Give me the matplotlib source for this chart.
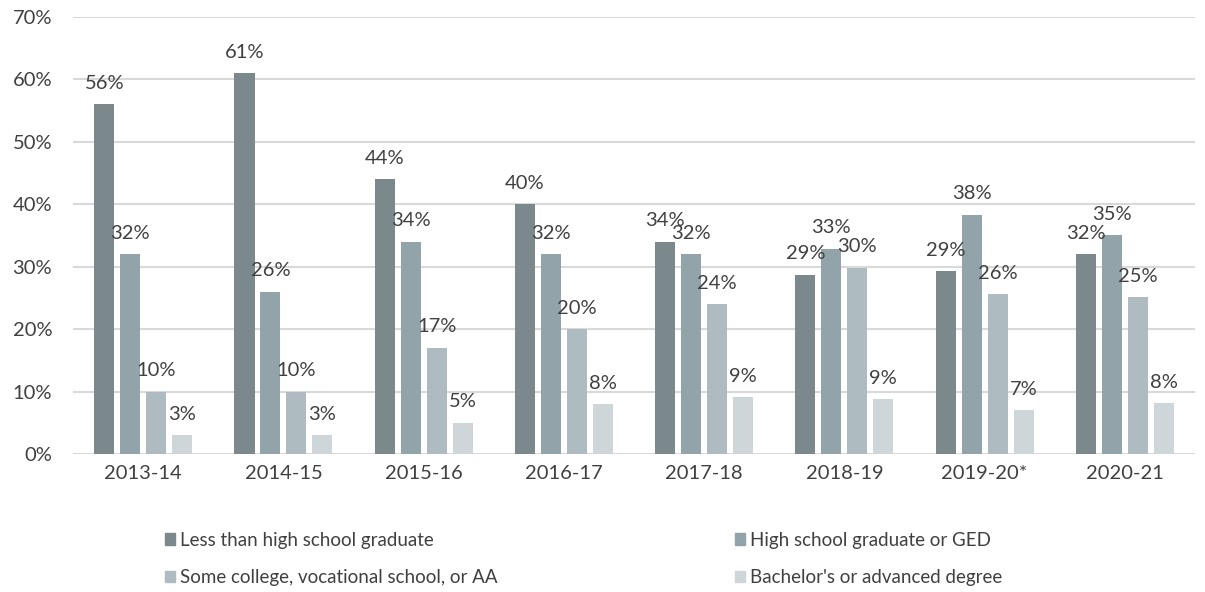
import numpy as np
import matplotlib
matplotlib.use('Agg')
import matplotlib.pyplot as plt
import matplotlib.patches as mpatches

# ---- Data ----
years = ['2013-14', '2014-15', '2015-16', '2016-17',
         '2017-18', '2018-19', '2019-20*', '2020-21']
less_than_hs = [56, 61, 44, 40, 34, 28.7, 29.3, 32]
hs_grad      = [32, 26, 34, 32, 32, 32.9, 38.3, 35]
some_college = [10, 10, 17, 20, 24, 29.8, 25.6, 25.1]
bachelors    = [3, 3, 5, 8, 9.1, 8.8, 7.0, 8.1]
label_vals = [
    [56, 61, 44, 40, 34, 29, 29, 32],
    [32, 26, 34, 32, 32, 33, 38, 35],
    [10, 10, 17, 20, 24, 30, 26, 25],
    [3, 3, 5, 8, 9, 9, 7, 8],
]
series_names = ['Less than high school graduate',
                'High school graduate or GED',
                'Some college, vocational school, or AA',
                "Bachelor's or advanced degree"]

colors = ['#7b888c', '#92a3a9', '#aebcc1', '#ced6d9']
text_col = '#404040'

plt.rcParams['font.family'] = ['Lato', 'DejaVu Sans']

fig = plt.figure(figsize=(12.05, 5.92), dpi=100)
ax = fig.add_axes([0.0606, 0.2331, 0.9311, 0.7382])

series = [less_than_hs, hs_grad, some_college, bachelors]
x = np.arange(len(years))
pitch = 0.185
width = 0.143

for i, vals in enumerate(series):
    xs = x + (i - 1.5) * pitch
    ax.bar(xs, vals, width=width, color=colors[i], zorder=3)
    for xx, v, lab in zip(xs, vals, label_vals[i]):
        ax.annotate(f'{lab}%', (xx, v), xytext=(0, 9), textcoords='offset points',
                    ha='center', va='bottom', fontsize=14.5, color=text_col, zorder=4)

ax.set_ylim(0, 70)
ax.set_xlim(-0.5, len(years) - 0.5)
ax.set_yticks(np.arange(0, 71, 10))
ax.set_yticklabels([f'{t}%' for t in range(0, 71, 10)])
ax.set_xticks(x)
ax.set_xticklabels(years)
ax.tick_params(axis='both', length=0, labelsize=14.5, labelcolor=text_col)
ax.tick_params(axis='x', pad=8)
ax.tick_params(axis='y', pad=15)
ax.grid(axis='y', color='#d9d9d9', linewidth=1.5, zorder=0)
for s in ax.spines.values():
    s.set_visible(False)

# legend in two columns, row-wise order
handles = [mpatches.Patch(color=c, label=n) for c, n in zip(colors, series_names)]
leg_kw = dict(loc='upper left', frameon=False, fontsize=13.5,
              handlelength=0.55, handleheight=0.55, handletextpad=0.25,
              labelspacing=1.1, labelcolor=text_col, borderpad=0)
fig.legend(handles=[handles[0], handles[2]], bbox_to_anchor=(0.129, 0.118), **leg_kw)
fig.legend(handles=[handles[1], handles[3]], bbox_to_anchor=(0.602, 0.118), **leg_kw)

fig.savefig('out.png', dpi=100)
plt.close(fig)
